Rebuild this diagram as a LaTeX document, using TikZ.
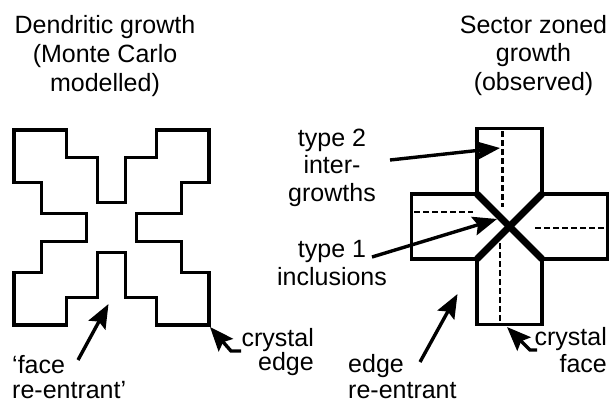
\documentclass[tikz,border=0pt]{standalone}
\usepackage{fontspec}
\setmainfont{Liberation Sans}
\usetikzlibrary{arrows.meta}
\tikzset{
  outline/.style={line width=3.2pt, line join=miter},
  xline/.style={line width=7pt},
  dashln/.style={line width=2.5pt, dash pattern=on 6pt off 3pt},
  pointer/.style={line width=3.4pt, line join=miter, -{Stealth[length=24pt,width=19pt,inset=4pt]}},
  lbl/.style={inner sep=0pt},
}
\begin{document}
\begin{tikzpicture}[x=1pt,y=-1pt]
\useasboundingbox (0,0) rectangle (612,402);
% titles (base anchor = baseline of last line)
\node[lbl, font=\fontsize{25}{29}\selectfont, align=center, anchor=base] (tl) at (105,91) {Dendritic growth\\(Monte Carlo\\modelled)};
\node[lbl, font=\fontsize{25}{28.5}\selectfont, align=center, anchor=base] (tr) at (533.5,90) {Sector zoned\\growth\\(observed)};
% dendritic outline
\draw[outline] (14,130) -- (66.5,130) -- (66.5,157.5) -- (97.5,157.5) -- (97.5,202.5) -- (125.5,202.5)
  -- (125.5,157.5) -- (156.5,157.5) -- (156.5,130) -- (209,130) -- (209,182.5) -- (181.5,182.5)
  -- (181.5,213.5) -- (136.5,213.5) -- (136.5,241.5) -- (181.5,241.5) -- (181.5,272.5) -- (209,272.5)
  -- (209,325) -- (156.5,325) -- (156.5,297.5) -- (125.5,297.5) -- (125.5,252.5) -- (97.5,252.5)
  -- (97.5,297.5) -- (66.5,297.5) -- (66.5,325) -- (14,325) -- (14,272.5) -- (41.5,272.5)
  -- (41.5,241.5) -- (86.5,241.5) -- (86.5,213.5) -- (41.5,213.5) -- (41.5,182.5) -- (14,182.5) -- cycle;
% sector zoned cross
\draw[outline] (477,128.5) -- (542,128.5) -- (542,194) -- (607.5,194) -- (607.5,259) -- (542,259)
  -- (542,324.5) -- (477,324.5) -- (477,259) -- (411.5,259) -- (411.5,194) -- (477,194) -- cycle;
\coordinate (xa) at (477,194);
\coordinate (xb) at (542,259);
\coordinate (xc) at (542,194);
\coordinate (xd) at (477,259);
\draw[xline] (xa) -- (xb);
\draw[xline] (xc) -- (xd);
% dashed intergrowth lines
\coordinate (dt1) at (502.5,131); \coordinate (dt2) at (502.5,207);
\coordinate (db1) at (500,243); \coordinate (db2) at (500,323);
\coordinate (dl1) at (414,212); \coordinate (dl2) at (473,212);
\coordinate (dr1) at (535,228); \coordinate (dr2) at (606,228);
\draw[dashln] (dt1) -- (dt2);
\draw[dashln] (db1) -- (db2);
\draw[dashln] (dl1) -- (dl2);
\draw[dashln] (dr1) -- (dr2);
% labels
\node[lbl, font=\fontsize{25}{27.5}\selectfont, align=center, anchor=base] (t2) at (332,201) {type 2\\inter-\\growths};
\node[lbl, font=\fontsize{25}{28}\selectfont, align=center, anchor=base] (t1) at (332,285) {type 1\\inclusions};
\node[lbl, font=\fontsize{25}{25}\selectfont, align=left, anchor=base west] (fr) at (12,398) {`face\\re-entrant'};
\node[lbl, font=\fontsize{25}{23.5}\selectfont, align=right, anchor=base east] (ce) at (314,370) {crystal\\edge};
\node[lbl, font=\fontsize{25}{26}\selectfont, align=left, anchor=base west] (er) at (348,398) {edge\\re-entrant};
\node[lbl, font=\fontsize{25}{27}\selectfont, align=right, anchor=base east] (cf) at (607,372) {crystal\\face};
% arrows
\coordinate (t2s) at (390,160); \coordinate (t2e) at (500,148);
\coordinate (t1s) at (372,257); \coordinate (t1e) at (497,219);
\coordinate (frs) at (78,360); \coordinate (fre) at (108.5,304);
\coordinate (ces) at (241,351); \coordinate (cem) at (231,351); \coordinate (cee) at (210,327);
\coordinate (ers) at (420,362); \coordinate (ere) at (457.5,294);
\coordinate (cfs) at (537,350); \coordinate (cfm) at (530,350); \coordinate (cfe) at (507,327);
\draw[pointer] (t2s) -- (t2e);
\draw[pointer] (t1s) -- (t1e);
\draw[pointer] (frs) -- (fre);
\draw[pointer] (ces) -- (cem) -- (cee);
\draw[pointer] (ers) -- (ere);
\draw[pointer] (cfs) -- (cfm) -- (cfe);
\end{tikzpicture}
\end{document}
